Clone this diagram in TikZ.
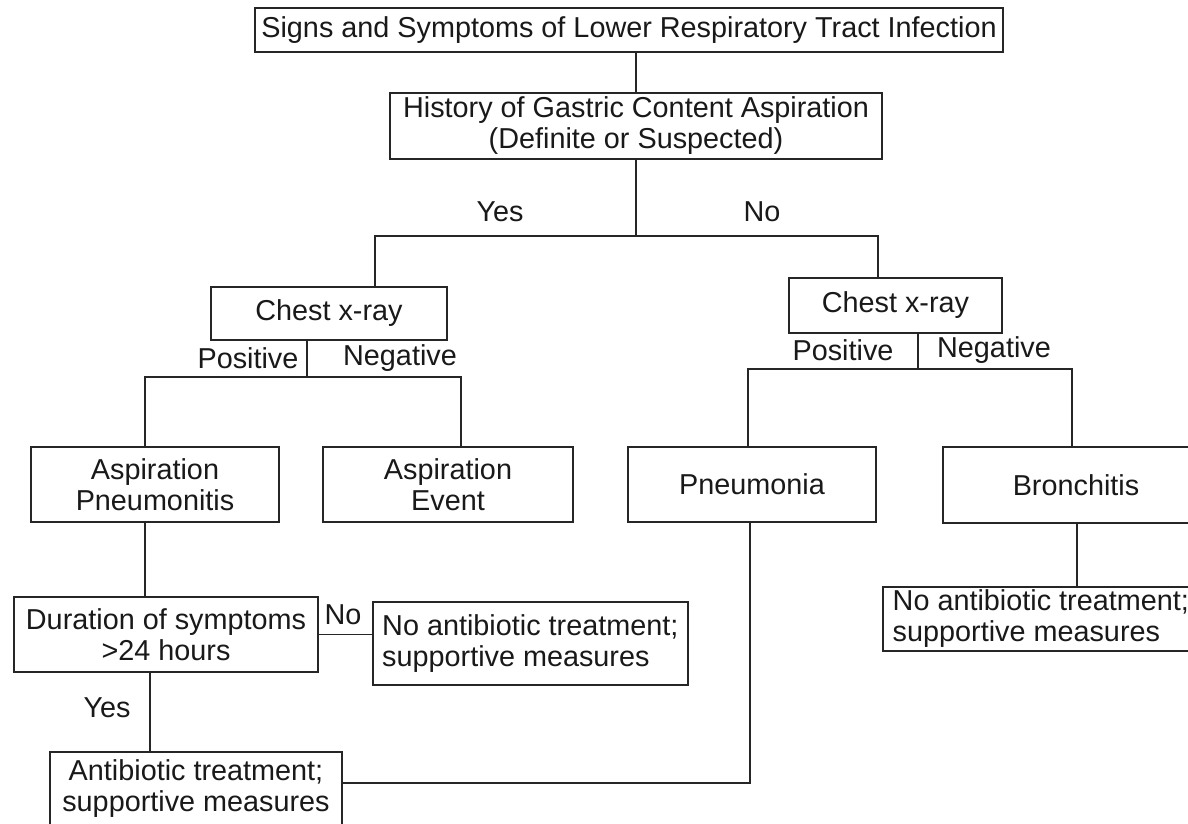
\documentclass[tikz,border=0pt]{standalone}
\usepackage{fontspec}
\setmainfont{Liberation Sans}
\begin{document}
\begin{tikzpicture}[x=1pt,y=-1pt,
  every node/.style={font=\fontsize{28.8}{31}\selectfont, text=black!90},
  box/.style={draw=black!85, line width=1.6pt, inner sep=0pt, align=center},
  lbox/.style={draw=black!85, line width=1.6pt, inner xsep=9pt, inner ysep=0pt, align=left, anchor=west},
  lbl/.style={inner sep=0pt},
  conn/.style={draw=black!85, line width=1.6pt}]
\fill[white] (0,0) rectangle (1188,824);
\useasboundingbox (0,0) rectangle (1188,824);

% boxes
\node[box, minimum width=748pt, minimum height=44pt] (top) at (629,30) {Signs and Symptoms of Lower Respiratory Tract Infection};
\node[box, minimum width=492pt, minimum height=66pt] (hist) at (636,126) {History of Gastric Content Aspiration\\(Definite or Suspected)};
\node[box, minimum width=236pt, minimum height=53pt] (chestL) at (329,313.5) {Chest x-ray};
\node[box, minimum width=213pt, minimum height=55pt] (chestR) at (895.5,305.5) {Chest x-ray};
\node[box, minimum width=248pt, minimum height=75pt] (pneumonitis) at (155,484.5) {Aspiration\\Pneumonitis};
\node[box, minimum width=250pt, minimum height=75pt] (event) at (448,484.5) {Aspiration\\Event};
\node[box, minimum width=248pt, minimum height=75pt] (pneumonia) at (752,484.5) {Pneumonia};
\node[box, minimum width=266pt, minimum height=76pt] (bronch) at (1076,485) {Bronchitis};
\node[box, minimum width=304pt, minimum height=75pt] (duration) at (166,634.5) {Duration of symptoms\\>24 hours};
\node[lbox, minimum width=315pt, minimum height=83pt] (noabL) at (372,643.5) {No antibiotic treatment;\\supportive measures};
\node[lbox, inner xsep=7pt, minimum width=316pt, minimum height=64pt] (noabR) at (882,619) {No antibiotic treatment;\\supportive measures};
\node[box, minimum width=292pt, minimum height=74pt] (antib) at (196,789) {Antibiotic treatment;\\supportive measures};

% junctions
\coordinate (j1) at (636,236);
\coordinate (j2) at (307,377);
\coordinate (j3) at (918,369);

% connectors
\draw[conn] (hist.north) -- (hist.north |- top.south);
\draw[conn] (hist.south) -- (j1);
\draw[conn] ([xshift=46pt]chestL.north) |- (j1) -| ([xshift=-17.5pt]chestR.north);
\draw[conn] ([xshift=-22pt]chestL.south) -- (j2);
\draw[conn] ([xshift=-10pt]pneumonitis.north) |- (j2) -| ([xshift=13pt]event.north);
\draw[conn] ([xshift=22.5pt]chestR.south) -- (j3);
\draw[conn] ([xshift=-4pt]pneumonia.north) |- (j3) -| ([xshift=-4pt]bronch.north);
\draw[conn] ([xshift=-10pt]pneumonitis.south) -- ([xshift=-21pt]duration.north);
\draw[conn] ([xshift=-16pt]duration.south) -- ([xshift=-46pt]antib.north);
\draw[conn] (duration.east) -- (duration.east -| noabL.west);
\draw[conn] ([xshift=-2pt]pneumonia.south) |- ([yshift=6pt]antib.east);
\draw[conn] ([xshift=1pt]bronch.south) -- ([xshift=1pt]bronch.south |- noabR.north);

% labels
\node[lbl] (yes1) at (500,212) {Yes};
\node[lbl] (no1) at (762,212) {No};
\node[lbl] (posL) at (248,358) {Positive};
\node[lbl] (negL) at (400,358) {Negative};
\node[lbl] (posR) at (843,350) {Positive};
\node[lbl] (negR) at (994,350) {Negative};
\node[lbl] (no2) at (343,615) {No};
\node[lbl] (yes2) at (107,708) {Yes};
\end{tikzpicture}
\end{document}
